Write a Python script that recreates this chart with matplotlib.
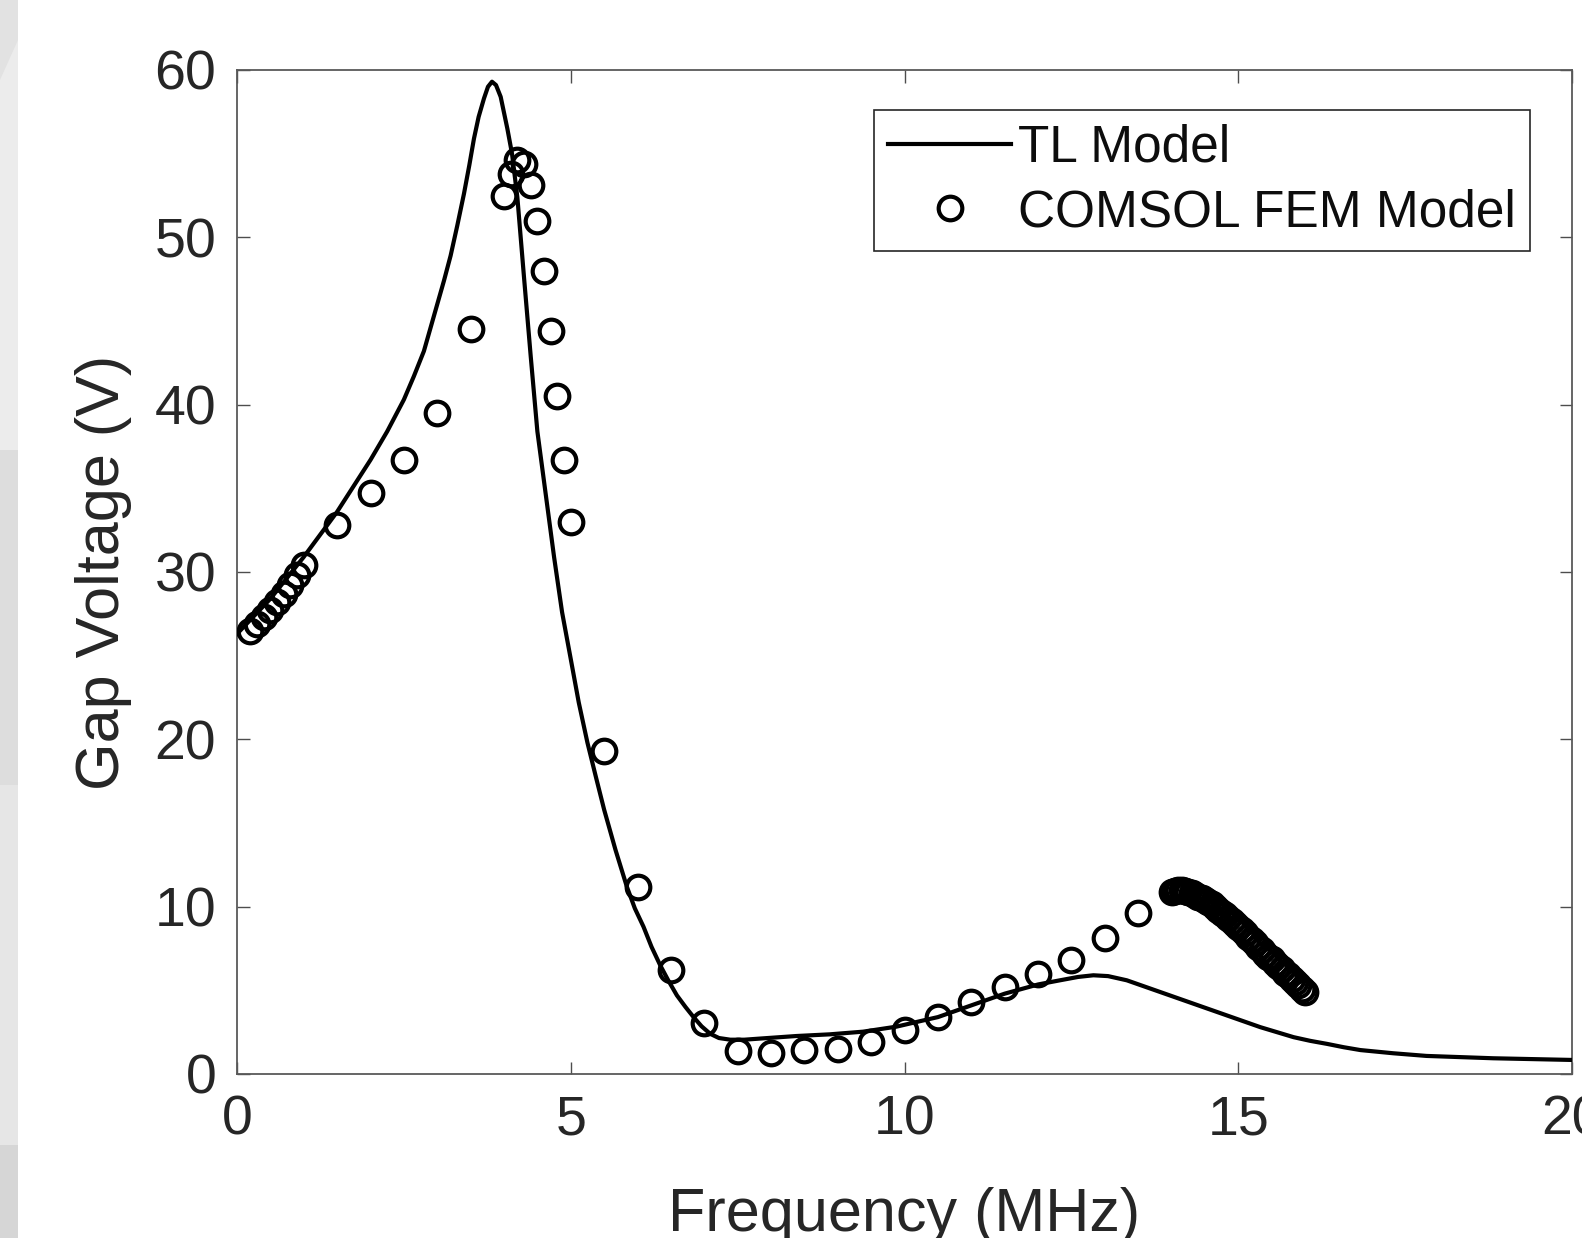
import numpy as np
import matplotlib
matplotlib.use("Agg")
import matplotlib.pyplot as plt
from matplotlib.patches import Rectangle, Polygon

# TL model curve
tl_freq = [0, 0.5, 1.0, 1.5, 2.0, 2.25, 2.5, 2.65, 2.8, 2.9, 3.0, 3.1, 3.2, 3.3,
           3.4, 3.48, 3.55, 3.62, 3.7, 3.76, 3.82, 3.88, 3.95, 4.05, 4.12, 4.2,
           4.3, 4.4, 4.5, 4.62, 4.75, 4.87, 5.0, 5.12, 5.25, 5.38, 5.5, 5.67,
           5.84, 5.96, 6.09, 6.21, 6.34, 6.46, 6.59, 6.72, 6.84, 6.96, 7.09,
           7.22, 7.39, 7.6, 7.88, 8.38, 8.88, 9.38, 9.88, 10.28, 10.5, 11.0,
           11.5, 12.0, 12.33, 12.6, 12.83, 13.05, 13.33, 13.83, 14.33, 14.83,
           15.33, 15.83, 16.08, 16.33, 16.58, 16.83, 17.32, 17.82, 18.82, 20.0]
tl_volt = [26.3, 28.4, 30.9, 33.6, 36.7, 38.4, 40.3, 41.7, 43.2, 44.6, 46.0, 47.4, 48.9, 50.7,
           52.6, 54.3, 55.9, 57.2, 58.3, 59.0, 59.3, 59.1, 58.4, 56.5, 55.0, 52.4,
           47.6, 42.9, 38.4, 34.8, 30.9, 27.6, 24.8, 22.2, 19.8, 17.7, 15.8, 13.4,
           11.2, 9.9, 8.8, 7.6, 6.5, 5.6, 4.7, 4.0, 3.4, 2.85, 2.4,
           2.15, 2.05, 2.05, 2.13, 2.27, 2.37, 2.53, 2.83, 3.2, 3.4, 4.1,
           4.8, 5.35, 5.6, 5.8, 5.9, 5.85, 5.6, 4.9, 4.2, 3.5,
           2.8, 2.2, 1.98, 1.8, 1.6, 1.43, 1.24, 1.08, 0.94, 0.84]

# COMSOL FEM points
fem_freq = [0.2, 0.3, 0.4, 0.5, 0.6, 0.7, 0.8, 0.9, 1.0,
            1.5, 2.0, 2.5, 3.0, 3.5,
            4.0, 4.1, 4.2, 4.3, 4.4, 4.5, 4.6, 4.7, 4.8, 4.9, 5.0,
            5.5, 6.0, 6.5, 7.0, 7.5, 8.0, 8.5, 9.0, 9.5, 10.0,
            10.5, 11.0, 11.5, 12.0, 12.5, 13.0, 13.5,
            14.0, 14.05, 14.1, 14.15, 14.2, 14.25, 14.3, 14.35, 14.4, 14.45,
            14.5, 14.55, 14.6, 14.65, 14.7, 14.75, 14.8, 14.85, 14.9, 14.95,
            15.0, 15.05, 15.1, 15.15, 15.2, 15.25, 15.3, 15.35, 15.4, 15.45,
            15.5, 15.55, 15.6, 15.65, 15.7, 15.75, 15.8, 15.85, 15.9, 15.95, 16.0]
fem_volt = [26.5, 26.9, 27.3, 27.7, 28.2, 28.7, 29.2, 29.8, 30.4,
            32.8, 34.7, 36.7, 39.5, 44.5,
            52.5, 53.8, 54.6, 54.4, 53.1, 51.0, 48.0, 44.4, 40.5, 36.7, 33.0,
            19.3, 11.2, 6.2, 3.05, 1.35, 1.25, 1.45, 1.5, 1.9, 2.6,
            3.4, 4.3, 5.2, 6.0, 6.8, 8.1, 9.6,
            10.9, 10.95, 11.0, 11.0, 10.95, 10.9, 10.8, 10.7, 10.6, 10.5,
            10.4, 10.3, 10.15, 10.0, 9.8, 9.65, 9.5, 9.3, 9.15, 8.95,
            8.8, 8.6, 8.4, 8.2, 8.0, 7.8, 7.6, 7.4, 7.2, 7.0,
            6.85, 6.65, 6.45, 6.25, 6.05, 5.9, 5.7, 5.5, 5.3, 5.1, 4.9]

x_ticks = [0, 5, 10, 15, 20]
y_ticks = [0, 10, 20, 30, 40, 50, 60]

plt.rcParams["font.family"] = ["Liberation Sans", "DejaVu Sans"]

W, H = 1582, 1238
fig = plt.figure(figsize=(W / 100, H / 100), dpi=100)

# grey slide background strip on the far left
strip = [(0, 450, "#ececec"), (450, 785, "#dddddd"),
         (785, 1145, "#e6e6e6"), (1145, 1238, "#d6d6d6")]
for y0, y1, c in strip:
    fig.add_artist(Rectangle((0, 1 - y1 / H), 18 / W, (y1 - y0) / H,
                             transform=fig.transFigure, color=c, lw=0, zorder=0))
fig.add_artist(Polygon([(0, 1), (18 / W, 1), (18 / W, 1 - 40 / H), (0, 1 - 80 / H)],
                       closed=True, transform=fig.transFigure, color="#e2e2e2",
                       lw=0, zorder=0))

ax = fig.add_axes([237 / W, 1 - 1074 / H, 1335 / W, 1004 / H])

ax.plot(tl_freq, tl_volt, color="black", lw=3.0, label="TL Model", zorder=3,
        solid_joinstyle="round")
ax.plot(fem_freq, fem_volt, ls="none", marker="o", ms=17, mfc="none",
        mec="black", mew=3.0, label="COMSOL FEM Model", zorder=4)

ax.set_xlim(0, 20)
ax.set_ylim(0, 60)
ax.set_xticks(x_ticks)
ax.set_yticks(y_ticks)

ax.tick_params(direction="in", length=9, width=1.0, color="0.3",
               labelsize=40, labelcolor="0.15", pad=15,
               top=True, right=True)
ax.tick_params(axis="x", labeltop=False)
for s in ax.spines.values():
    s.set_color("0.35")
    s.set_linewidth(1.3)

ax.set_xlabel("Frequency (MHz)", fontsize=44, color="0.15")
ax.set_ylabel("Gap Voltage (V)", fontsize=44, color="0.15")
ax.xaxis.set_label_coords(0.5, -0.113)
ax.yaxis.set_label_coords(-0.079, 0.5)

leg = ax.legend(loc="upper left", bbox_to_anchor=(0.4772, 0.9602),
                borderaxespad=0, fontsize=37, handlelength=2.4,
                handletextpad=0.14, borderpad=0.27, labelspacing=0.3,
                fancybox=False, framealpha=1, edgecolor="0.15")
leg.get_frame().set_linewidth(1.2)
for t in leg.get_texts():
    t.set_color("0.05")

fig.savefig("out.png", dpi=100)
